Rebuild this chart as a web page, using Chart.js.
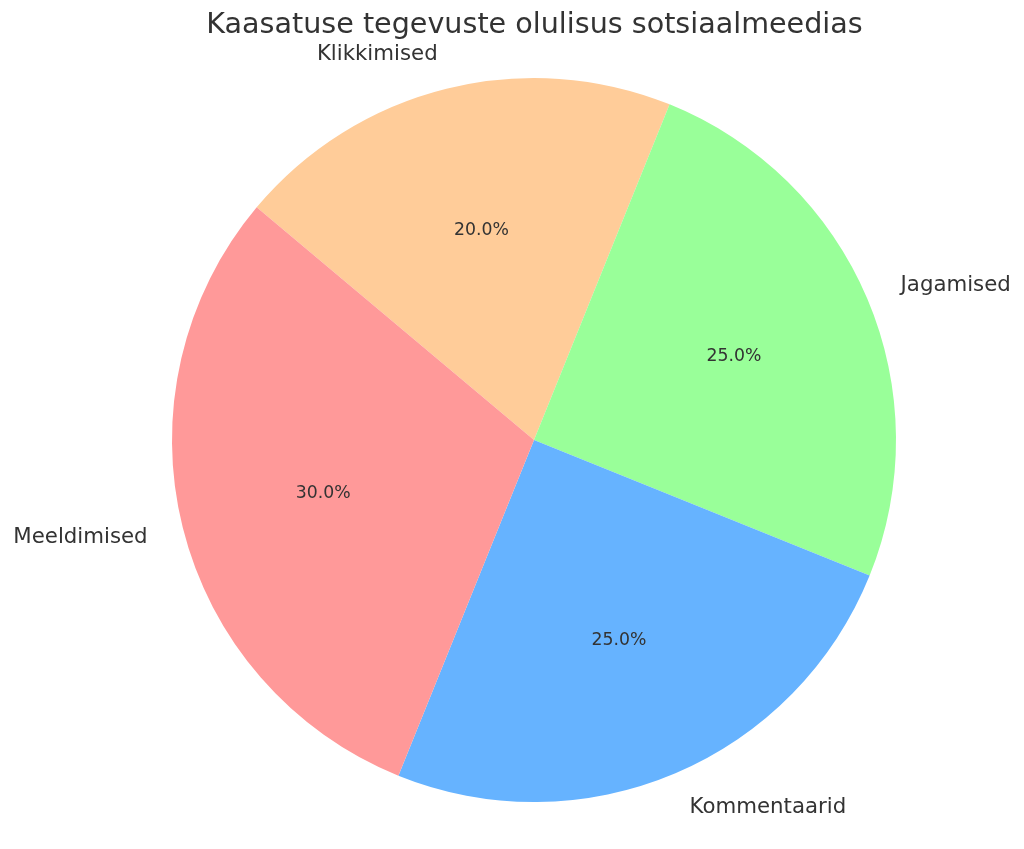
<!DOCTYPE html>
<html>
<head>
<meta charset="utf-8">
<script src="https://cdn.jsdelivr.net/npm/chart.js@4/dist/chart.umd.min.js"></script>
<style>
html,body{margin:0;padding:0;background:#fff;}
#wrap{width:1024px;height:849px;position:relative;}
</style>
</head>
<body>
<div id="wrap"><canvas id="c" width="1024" height="849"></canvas></div>
<script>
// Data (matplotlib order, counterclockwise)
const titleText = 'Kaasatuse tegevuste olulisus sotsiaalmeedias';
const categories = ['Meeldimised', 'Kommentaarid', 'Jagamised', 'Klikkimised'];
const values = [30, 25, 25, 20];
const colors = ['#ff9999', '#66b3ff', '#99ff99', '#ffcc99'];

// Chart.js draws clockwise, so reverse the order
const labelsCW = categories.slice().reverse();
const valuesCW = values.slice().reverse();
const colorsCW = colors.slice().reverse();
const total = values.reduce((a, b) => a + b, 0);

const textColor = '#333333';
const fontFam = '"DejaVu Sans", sans-serif';

const labelPlugin = {
  id: 'pieLabels',
  afterDraw(chart) {
    const ctx = chart.ctx;
    const meta = chart.getDatasetMeta(0);
    ctx.save();
    // title
    ctx.fillStyle = textColor;
    ctx.font = '28.6px ' + fontFam;
    ctx.textAlign = 'center';
    ctx.textBaseline = 'middle';
    ctx.fillText(titleText, 534.5, 26);
    meta.data.forEach((arc, i) => {
      const mid = (arc.startAngle + arc.endAngle) / 2;
      const r = arc.outerRadius;
      const cx = arc.x, cy = arc.y;
      // outer label
      const lx = cx + 1.1 * r * Math.cos(mid);
      const ly = cy + 1.1 * r * Math.sin(mid) + 1;
      ctx.font = '21.3px ' + fontFam;
      ctx.textAlign = Math.cos(mid) > 0 ? 'left' : 'right';
      ctx.textBaseline = 'middle';
      ctx.fillText(labelsCW[i], lx, ly);
      // percent
      const px = cx + 0.6 * r * Math.cos(mid);
      const py = cy + 0.6 * r * Math.sin(mid) + 1;
      ctx.font = '17.3px ' + fontFam;
      ctx.textAlign = 'center';
      ctx.fillText((valuesCW[i] / total * 100).toFixed(1) + '%', px, py);
    });
    ctx.restore();
  }
};

new Chart(document.getElementById('c'), {
  type: 'pie',
  data: {
    labels: labelsCW,
    datasets: [{
      data: valuesCW,
      backgroundColor: colorsCW,
      borderWidth: 0
    }]
  },
  options: {
    responsive: false,
    animation: false,
    rotation: -50,
    layout: { padding: { left: 172, right: 128, top: 78, bottom: 47 } },
    plugins: {
      legend: { display: false },
      tooltip: { enabled: false },
      title: { display: false }
    }
  },
  plugins: [labelPlugin]
});
</script>
</body>
</html>
